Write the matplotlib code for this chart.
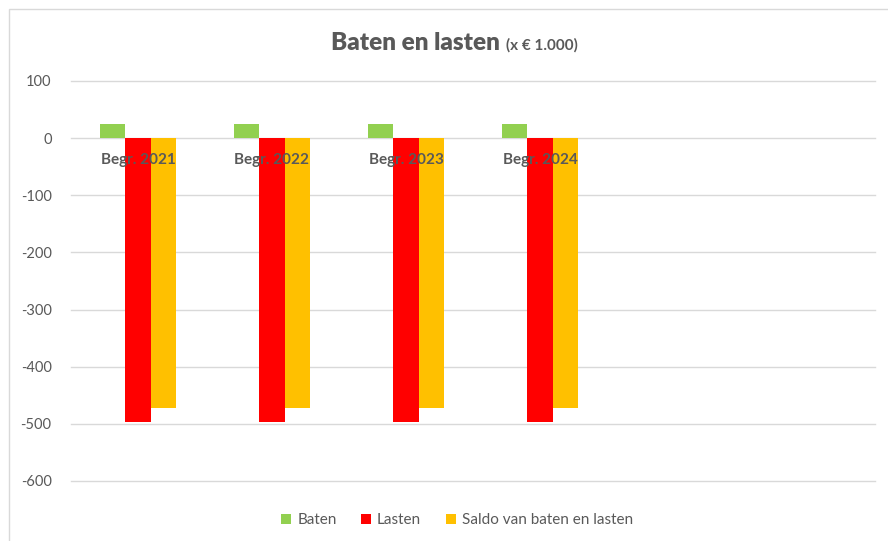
import matplotlib
matplotlib.use("Agg")
import matplotlib.pyplot as plt
import numpy as np
from matplotlib.patches import Rectangle

CATEGORIES = ["Begr. 2021", "Begr. 2022", "Begr. 2023", "Begr. 2024"]
BATEN = [24, 24, 24, 24]
LASTEN = [-497, -497, -497, -497]
SALDO = [-473, -473, -473, -473]
SERIES = ["Baten", "Lasten", "Saldo van baten en lasten"]
COLORS = ["#92d050", "#ff0000", "#ffc000"]
YTICKS = [100, 0, -100, -200, -300, -400, -500, -600]

GREY = "#595959"
plt.rcParams["font.family"] = ["Lato", "DejaVu Sans"]
plt.rcParams["axes.unicode_minus"] = False

fig = plt.figure(figsize=(8.88, 5.41), dpi=100)
fig.patches.append(Rectangle((9 / 888, -0.01), 1.0, 1 - 9 / 541 + 0.01, transform=fig.transFigure,
                             fill=False, edgecolor="#d9d9d9", lw=1))
ax = fig.add_axes([71 / 888, 1 - 481 / 541, 804 / 888, 400 / 541])

x = np.arange(len(CATEGORIES))
w = 0.19
for off, vals, col, lab in zip([-w, 0, w], [BATEN, LASTEN, SALDO], COLORS, SERIES):
    ax.bar(x + off, vals, width=w, color=col, label=lab, zorder=2)

for xi, cat in zip(x, CATEGORIES):
    ax.annotate(cat, (xi, 0), xytext=(0, -22), textcoords="offset pixels",
                ha="center", va="center", fontsize=11, fontweight="bold",
                color=GREY, zorder=5)

ax.set_xlim(-0.5, 5.5)
ax.set_ylim(-600, 100)
ax.set_yticks(YTICKS)
ax.set_xticks([])
ax.yaxis.grid(True, color="#d9d9d9", lw=1, zorder=0)
ax.set_axisbelow(True)
for gl in ax.get_ygridlines():
    gl.set_clip_on(False)
for s in ax.spines.values():
    s.set_visible(False)
ax.tick_params(axis="y", length=0, pad=14, labelsize=10.5, labelcolor=GREY)

fig.text(500 / 888, 1 - 50 / 541, "Baten en lasten", ha="right", va="baseline",
         fontsize=17.5, fontweight="heavy", color=GREY)
fig.text(506 / 888, 1 - 50 / 541, "(x € 1.000)", ha="left", va="baseline",
         fontsize=11, fontweight="bold", color=GREY)

fig.legend(loc="center", bbox_to_anchor=(457 / 888, 1 - 520 / 541), ncol=3, frameon=False,
           fontsize=11, handlelength=0.65, handleheight=0.65, handletextpad=0.4,
           columnspacing=1.6, labelcolor=GREY)

fig.savefig("out.png", dpi=100)
